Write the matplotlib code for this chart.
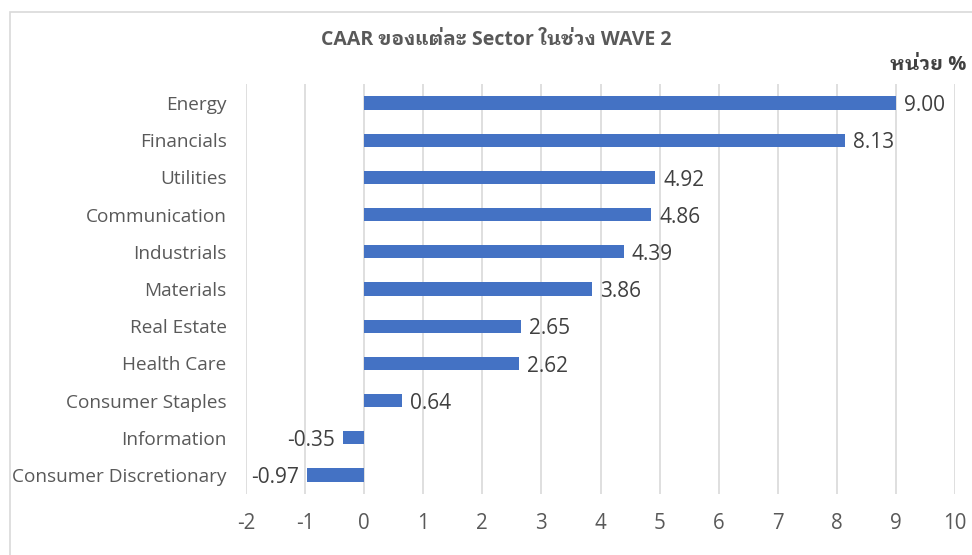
import matplotlib
matplotlib.use("Agg")
import matplotlib.pyplot as plt
from matplotlib.patches import Rectangle

# CAAR by sector, wave 2 (unit: %)
sectors = ["Energy", "Financials", "Utilities", "Communication", "Industrials",
           "Materials", "Real Estate", "Health Care", "Consumer Staples",
           "Information", "Consumer Discretionary"]
caar = [9.00, 8.13, 4.92, 4.86, 4.39, 3.86, 2.65, 2.62, 0.64, -0.35, -0.97]
xticks = list(range(-2, 11))

BAR = "#4472C4"
TXT = "#595959"
GRID = "#D9D9D9"

plt.rcParams["font.family"] = ["Open Sans", "IBM Plex Sans Thai Looped", "DejaVu Sans"]

fig = plt.figure(figsize=(9.72, 5.55), dpi=100)
ax = fig.add_axes([246 / 972, 1 - 493.6 / 555, (955 - 246) / 972, (493.6 - 84.4) / 555])

y = list(range(len(sectors)))
ax.barh(y, caar, height=0.35, color=BAR, zorder=3)
ax.set_ylim(len(sectors) - 0.5, -0.5)
ax.set_xlim(-2, 10)
ax.set_xticks(xticks)
ax.set_xticklabels([str(t) for t in xticks])
ax.set_yticks(y)
ax.set_yticklabels(sectors)
ax.grid(axis="x", color=GRID, linewidth=1.2, zorder=0)
ax.tick_params(axis="both", length=0, colors=TXT)
ax.tick_params(axis="x", pad=14, labelsize=14.8)
ax.tick_params(axis="y", pad=14, labelsize=13.7)
for s in ax.spines.values():
    s.set_visible(False)

# value labels
for yi, v in zip(y, caar):
    if v >= 0:
        ax.annotate("%.2f" % v, (v, yi), xytext=(6, -2), textcoords="offset points",
                    ha="left", va="center", fontsize=15, color="#404040")
    else:
        ax.annotate("%.2f" % v, (v, yi), xytext=(-6, -2), textcoords="offset points",
                    ha="right", va="center", fontsize=15, color="#404040")

fig.text(496 / 972, 1 - 40 / 555, "CAAR ของแต่ละ Sector ในช่วง WAVE 2",
         ha="center", va="center", fontsize=14, fontweight="bold", color=TXT)
fig.text(966 / 972, 1 - 65 / 555, "หน่วย %", ha="right", va="center",
         fontsize=14.5, fontweight="bold", color="#404040")

# chart area border
fig.patches.append(Rectangle((10 / 972, -0.1), 1.1, 1 - 12 / 555 + 0.1,
                             transform=fig.transFigure, fill=False,
                             edgecolor=GRID, linewidth=1.2))

fig.savefig("out.png", dpi=100)
